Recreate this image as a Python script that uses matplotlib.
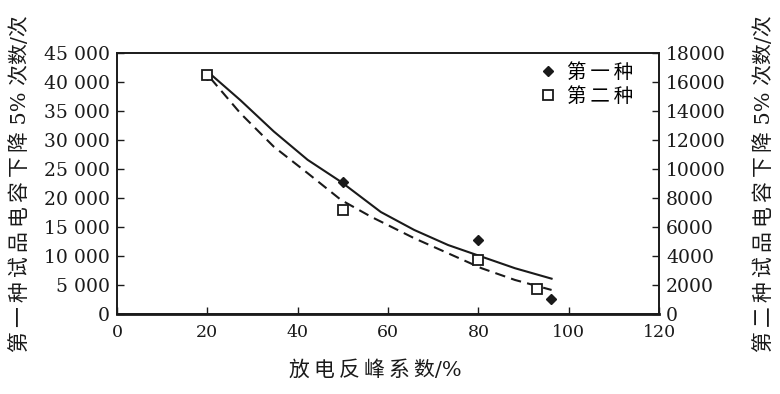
import matplotlib.pyplot as plt
from matplotlib.ticker import FuncFormatter, MultipleLocator

plt.rcParams['font.family'] = ['DejaVu Serif', 'Noto Sans CJK SC']

# measured points
x_first = [20, 50, 80, 96]
y_first = [41200, 22800, 12700, 2600]
x_second = [20, 50, 80, 93]
y_second = [16500, 7200, 3700, 1750]

# fitted trend curves
x_fit1 = [20.9, 27.3, 34.7, 42.2, 49.6, 58.4, 65.8, 73.3, 80.7, 88.1, 96.2]
y_fit1 = [41250, 36900, 31500, 26600, 22800, 17600, 14500, 11900, 9900, 7900, 6100]
x_fit2 = [20.7, 27.3, 34.7, 42.2, 49.6, 56.2, 65.8, 73.3, 80.7, 88.1, 96.2]
y_fit2 = [16270, 13860, 11550, 9720, 7870, 6720, 5230, 4190, 3160, 2350, 1660]

ink = '#1a1a1a'
thin = '\u2009'

fig = plt.figure(figsize=(7.8, 3.94), dpi=100)
ax = fig.add_axes([0.15, 0.203, 0.695, 0.662])
ax2 = ax.twinx()

ax.plot(x_fit1, y_fit1, color=ink, lw=1.5)
ax2.plot(x_fit2, y_fit2, color=ink, lw=1.5, ls=(0, (5, 3)))
ax.plot(x_first, y_first, 'D', color=ink, ms=5.5, ls='none',
        label=thin.join('第一种'))
ax2.plot(x_second, y_second, 's', mfc='white', mec=ink, mew=1.3, ms=7,
         ls='none', label=thin.join('第二种'))

ax.set_xlim(0, 120)
ax.set_ylim(0, 45000)
ax2.set_ylim(0, 18000)
ax.xaxis.set_major_locator(MultipleLocator(20))
ax.yaxis.set_major_locator(MultipleLocator(5000))
ax2.yaxis.set_major_locator(MultipleLocator(2000))
ax.yaxis.set_major_formatter(
    FuncFormatter(lambda v, p: f"{int(v):,}".replace(',', ' ')))

for a in (ax, ax2):
    a.tick_params(direction='in', length=5, width=1, labelsize=13.5,
                  colors=ink, pad=5)
    for s in a.spines.values():
        s.set_color(ink)
        s.set_linewidth(1.2)
ax.spines['bottom'].set_linewidth(2)
ax.tick_params(axis='x', labelsize=12.5, pad=7.5)

ax.set_xlabel(thin.join('放电反峰系数') + '/%', fontsize=15, color=ink,
              labelpad=13.5)
ax.xaxis.label.set_x(0.476)
ax.set_ylabel(thin.join('第一种试品电容下降') + ' 5% 次数/次',
              fontsize=15, color=ink, labelpad=10)
ax2.set_ylabel(thin.join('第二种试品电容下降') + ' 5% 次数/次',
               fontsize=15, color=ink, rotation=90, labelpad=20)

h1, l1 = ax.get_legend_handles_labels()
h2, l2 = ax2.get_legend_handles_labels()
ax2.legend(h1 + h2, l1 + l2, loc='upper right', frameon=False, fontsize=14,
           handlelength=1, handletextpad=0.5, labelspacing=0.3,
           bbox_to_anchor=(0.985, 1.03))

fig.savefig('out.png', dpi=100)
